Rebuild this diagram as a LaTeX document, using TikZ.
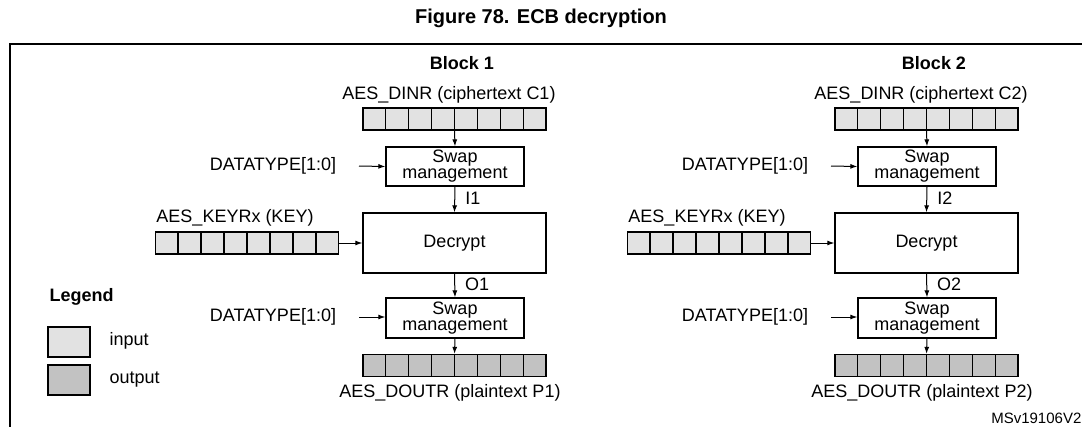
\documentclass[tikz,border=0pt]{standalone}
\usepackage{fontspec}
\setmainfont{Liberation Sans}
\usetikzlibrary{calc,arrows.meta}
\definecolor{inC}{HTML}{E2E2E2}
\definecolor{outC}{HTML}{C2C2C2}
\begin{document}
\begin{tikzpicture}[x=1pt,y=-1pt,line width=1.3pt,
  txt/.style={inner sep=0pt,font=\fontsize{18}{18}\selectfont},
  box/.style={draw,inner sep=0pt,align=center,font=\fontsize{18}{16}\selectfont},
  reg/.style={draw,inner sep=0pt,minimum width=183pt,minimum height=22pt},
  arr/.style={-{Latex[length=7pt,width=5pt]},line width=1pt}]
\useasboundingbox (0,0) rectangle (1082,426);
\node[font=\bfseries\fontsize{20}{20}\selectfont] (title) at (541,18) {Figure 78. ECB decryption};
\draw (10,428) -- (10,44) -- (1084,44);
\node[txt,font=\bfseries\fontsize{18}{18}\selectfont,anchor=west] (leg) at (49,297) {Legend};
\node[draw,fill=inC,minimum width=42pt,minimum height=30pt,inner sep=0pt] (lin) at (69,342) {};
\node[draw,fill=outC,minimum width=42pt,minimum height=30pt,inner sep=0pt] (lout) at (69,380) {};
\node[txt,anchor=west] (lint) at (109,341) {input};
\node[txt,anchor=west] (loutt) at (109,380) {output};
\node[txt,anchor=east] (ms) at (1082,418) {\fontsize{15}{15}\selectfont MSv19106V2};
\foreach \b/\dx in {1/0,2/472}{
\begin{scope}[xshift=\dx pt]
 \node[txt,font=\bfseries\fontsize{18}{18}\selectfont] (blk\b) at (462,63) {Block \b};
 \node[txt] (dinl\b) at (449,95) {AES\_DINR (ciphertext C\b)};
 \node[reg,fill=inC] (din\b) at (454.5,119) {};
 \node[box,minimum width=138pt,minimum height=39pt] (sw\b) at (455,166.5) {Swap\\management};
 \node[txt] (dt\b) at (273,166) {DATATYPE[1:0]};
 \node[box,minimum width=183pt,minimum height=60pt] (dec\b) at (454.5,243) {Decrypt};
 \node[reg,fill=inC] (key\b) at (247,243) {};
 \node[txt] (keyl\b) at (235,218) {AES\_KEYRx (KEY)};
 \node[box,minimum width=138pt,minimum height=40pt] (sx\b) at (455,318) {Swap\\management};
 \node[txt] (dx\b) at (273,317) {DATATYPE[1:0]};
 \node[reg,fill=outC] (dout\b) at (454.5,365.5) {};
 \node[txt] (doutl\b) at (450,393) {AES\_DOUTR (plaintext P\b)};
 \foreach \r in {din\b,key\b,dout\b}{
   \foreach \i in {1,...,7}{
     \draw ($(\r.south west)!\i/8!(\r.south east)$) -- ($(\r.north west)!\i/8!(\r.north east)$);
   }}
 \draw[arr] (din\b.south) -- (sw\b.north);
 \draw[arr] (sw\b.south) -- node[txt,right=10pt,pos=0.45] (il\b) {I\b} (dec\b.north);
 \draw[arr] (dec\b.south) -- node[txt,right=10pt,pos=0.45] (ol\b) {O\b} (sx\b.north);
 \draw[arr] (sx\b.south) -- (dout\b.north);
 \draw[arr] (key\b.east) -- (dec\b.west);
 \coordinate (c1\b) at (359,166); \coordinate (c2\b) at (359,317);
 \draw[arr] (c1\b) -- (sw\b.west);
 \draw[arr] (c2\b) -- (sx\b.west|-c2\b);
\end{scope}}
\end{tikzpicture}
\end{document}
